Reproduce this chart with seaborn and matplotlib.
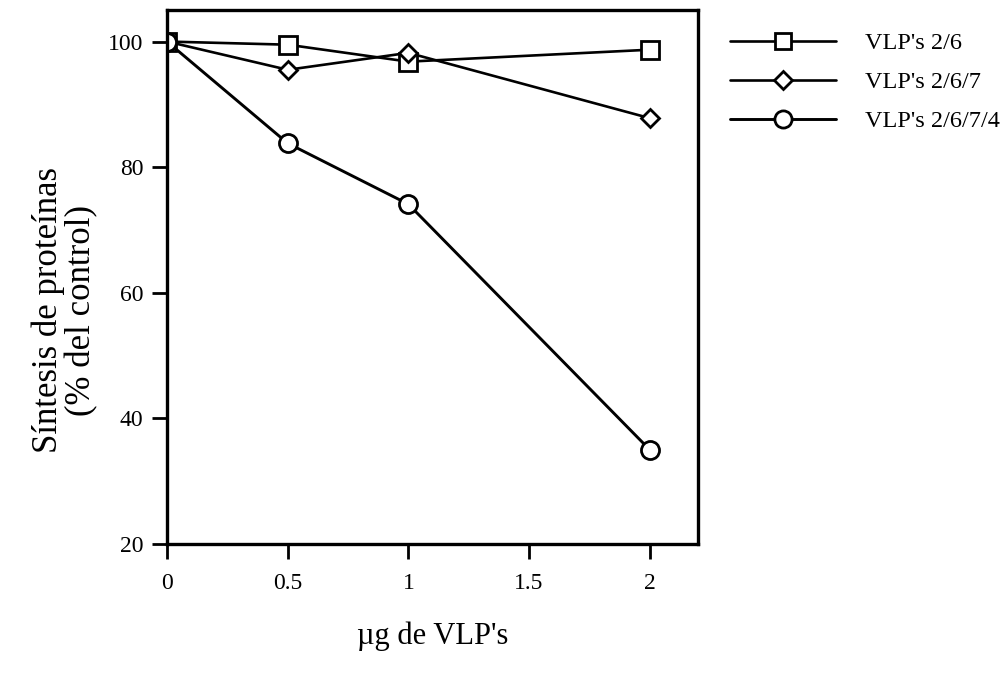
import pandas as pd
import matplotlib.pyplot as plt
import seaborn as sns

# data
dose = [0, 0.5, 1, 2]
vlp_26 = [100, 99.5, 96.8, 98.7]
vlp_267 = [100, 95.5, 98.2, 87.8]
vlp_2674 = [100, 83.8, 74.1, 35.0]
series_names = ["VLP's 2/6", "VLP's 2/6/7", "VLP's 2/6/7/4"]
x_ticks = [0, 0.5, 1, 1.5, 2]
x_ticklabels = ["0", "0.5", "1", "1.5", "2"]
y_ticks = [20, 40, 60, 80, 100]

df = pd.DataFrame({
    "dose": dose * 3,
    "value": vlp_26 + vlp_267 + vlp_2674,
    "serie": [series_names[0]] * 4 + [series_names[1]] * 4 + [series_names[2]] * 4,
})

sns.set_style("white")
plt.rcParams["font.family"] = ["Liberation Serif", "DejaVu Serif"]
plt.rcParams["text.color"] = "black"
plt.rcParams["axes.labelcolor"] = "black"

fig = plt.figure(figsize=(10.08, 6.76), dpi=100)
ax = fig.add_axes([0.1657, 0.1953, 0.5268, 0.7897])

markers = {series_names[0]: "s", series_names[1]: "D", series_names[2]: "o"}
msizes = {series_names[0]: 12.5, series_names[1]: 9.5, series_names[2]: 13}
lws = {series_names[0]: 1.9, series_names[1]: 1.9, series_names[2]: 2.1}

handles = []
for name in series_names:
    sub = df[df["serie"] == name]
    sns.lineplot(data=sub, x="dose", y="value", ax=ax, color="black",
                 linewidth=lws[name], marker=markers[name],
                 markersize=msizes[name], markerfacecolor="white",
                 markeredgecolor="black", markeredgewidth=2.0,
                 label=name, legend=False)
    handles.append(ax.lines[-1])

ax.set_xlim(0, 2.2)
ax.set_ylim(20, 105)
ax.set_xticks(x_ticks)
ax.set_xticklabels(x_ticklabels)
ax.set_yticks(y_ticks)
ax.tick_params(direction="out", length=11, width=2, labelsize=17,
               colors="black", labelcolor="black", bottom=True, left=True)
ax.tick_params(axis="x", pad=10)
ax.tick_params(axis="y", pad=6)
for s in ax.spines.values():
    s.set_visible(True)
    s.set_color("black")
    s.set_linewidth(2.4)

ax.set_xlabel("µg de VLP's", fontsize=22, color="black")
ax.set_ylabel("Síntesis de proteínas\n(% del control)", fontsize=25,
              linespacing=0.98, color="black")
ax.xaxis.set_label_coords(0.5, -0.146)
ax.yaxis.set_label_coords(-0.13, 0.438)

fig.legend(handles=handles, labels=series_names, loc="upper left",
           bbox_to_anchor=(0.724, 0.952), frameon=False, fontsize=17.5,
           borderpad=0, borderaxespad=0, handlelength=4.35,
           handletextpad=1.2, labelspacing=0.69, markerscale=0.95,
           labelcolor="black")

fig.savefig("out.png", dpi=100)
